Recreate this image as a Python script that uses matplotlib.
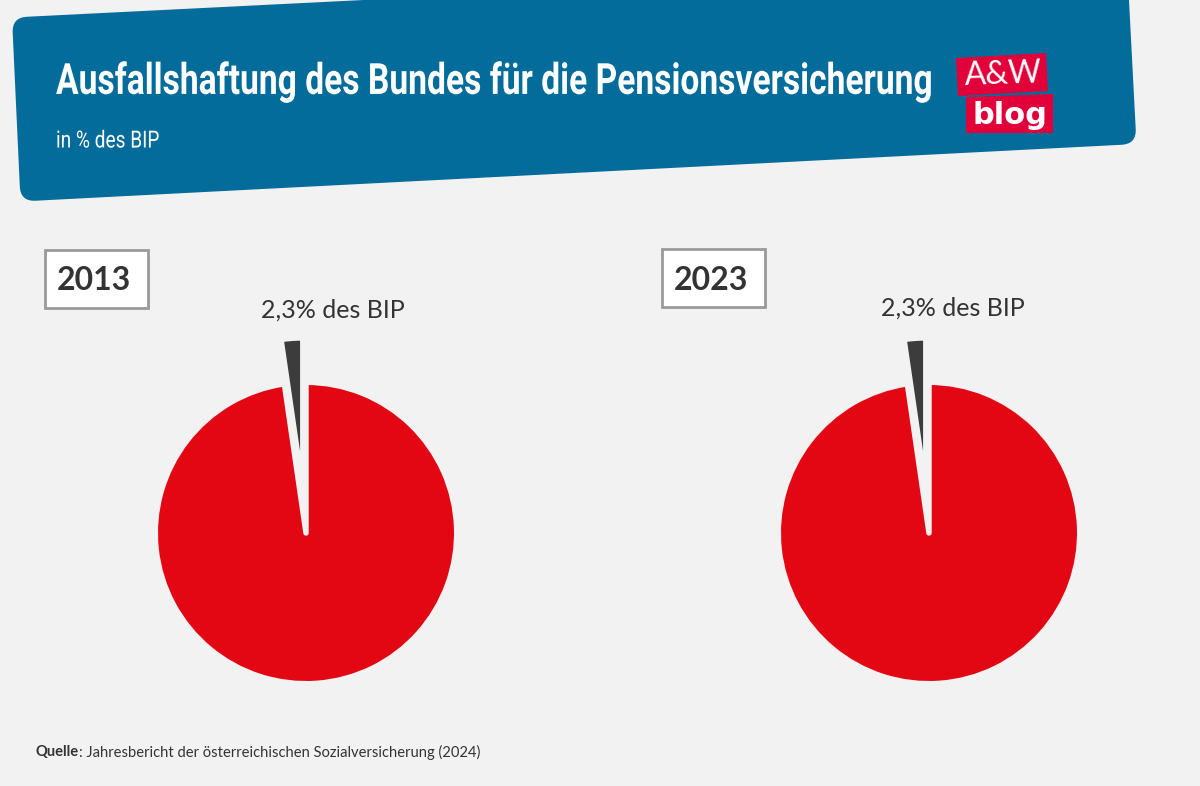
import matplotlib
matplotlib.use("Agg")
import matplotlib.pyplot as plt
from matplotlib.patches import PathPatch, Polygon, Rectangle
from matplotlib.path import Path
from matplotlib.patheffects import AbstractPathEffect
from matplotlib.transforms import Affine2D
import numpy as np

years = ["2013", "2023"]
rest_values = [97.7, 97.7]
liability_values = [2.3, 2.3]
liability_labels = ["2,3% des BIP", "2,3% des BIP"]
title = "Ausfallshaftung des Bundes für die Pensionsversicherung"
subtitle = "in % des BIP"
source_bold = "Quelle"
source_text = ": Jahresbericht der österreichischen Sozialversicherung (2024)"

BG = "#f2f2f2"; BLUE = "#046c9b"; RED = "#e30613"; DARK = "#3c3c3c"
LOGO = "#e2003a"; TXT = "#333333"
NARROW = ["Roboto", "DejaVu Sans"]
BODY = ["Lato", "Noto Sans", "DejaVu Sans"]

W, H = 1200, 786
fig = plt.figure(figsize=(12, 7.86), dpi=100, facecolor=BG)
bgax = fig.add_axes([0, 0, 1, 1]); bgax.set_xlim(0, W); bgax.set_ylim(H, 0); bgax.axis("off")


class Condense(AbstractPathEffect):
    """Narrows text horizontally about a pixel anchor (no condensed font is installed)."""
    def __init__(self, x0, sx):
        super().__init__()
        self.x0, self.sx = x0, sx

    def draw_path(self, renderer, gc, tpath, affine, rgbFace=None):
        squeeze = Affine2D().translate(-self.x0, 0).scale(self.sx, 1).translate(self.x0, 0)
        renderer.draw_path(gc, tpath, affine + squeeze, rgbFace)


def rounded(pts, r):
    pts = np.array(pts, float); n = len(pts)
    verts, codes = [], []
    for i in range(n):
        p, a, b = pts[i], pts[i - 1], pts[(i + 1) % n]
        s = p + (a - p) / np.linalg.norm(a - p) * r
        e = p + (b - p) / np.linalg.norm(b - p) * r
        verts += [s, p, e]
        codes += [Path.MOVETO if i == 0 else Path.LINETO, Path.CURVE3, Path.CURVE3]
    verts.append(verts[0]); codes.append(Path.CLOSEPOLY)
    return Path(verts, codes)


bgax.add_patch(PathPatch(rounded([(12, 17.5), (20.5, 201.5), (1136.5, 144), (1127, -38)], 15),
                         fc=BLUE, ec="none"))
bgax.text(56, 82, title, color="white", fontsize=31, fontweight="bold", family=NARROW, va="center", ha="left",
          path_effects=[Condense(56, 0.78)])
bgax.text(56, 141, subtitle, color="white", fontsize=17, family=NARROW, va="center", ha="left",
          path_effects=[Condense(56, 0.81)])

# logo
bgax.add_patch(Polygon([(956, 58), (1046, 53), (1048, 91), (958, 96)], fc=LOGO, ec="none"))
bgax.add_patch(Polygon([(966, 97), (1053, 94), (1053, 133), (966, 133)], fc=LOGO, ec="none"))
bgax.text(1003, 75, "A&W", color="white", fontsize=23, family=["Lato", "DejaVu Sans"],
          va="center", ha="center", rotation=2)
bgax.text(1010, 115, "blog", color="white", fontsize=22, family=["DejaVu Sans"], fontweight="bold",
          va="center", ha="center")

R = 150.7
box_pos = [(45, 250), (662, 249)]
centers = [(306, 533), (929, 533)]
label_pos = [(333, 310), (953, 308)]
for year, rest, liab, lab, bp, c, lp in zip(years, rest_values, liability_values, liability_labels,
                                            box_pos, centers, label_pos):
    bgax.add_patch(Rectangle(bp, 103, 58, fc="white", ec="#9a9a9a", lw=2))
    bgax.text(bp[0] + 48.5, bp[1] + 31, year, color=TXT, fontsize=23, fontweight="bold", family=BODY,
              va="center", ha="center")
    bgax.text(lp[0], lp[1], lab, color=TXT, fontsize=18, family=BODY, va="center", ha="center")
    half = R * 1.4
    ax = fig.add_axes([(c[0] - half) / W, 1 - (c[1] + half) / H, 2 * half / W, 2 * half / H])
    ax.pie([rest, liab], colors=[RED, DARK], startangle=90, counterclock=False, explode=[0, 0.295],
           wedgeprops=dict(edgecolor=BG, linewidth=3.9, joinstyle="round"))
    ax.set_xlim(-1.4, 1.4); ax.set_ylim(-1.4, 1.4)
    ax.patch.set_alpha(0)

t = bgax.text(36, 752, source_bold, color=TXT, fontsize=10.6, fontweight="bold", family=BODY, va="center", ha="left")
fig.canvas.draw()
bb = t.get_window_extent().transformed(bgax.transData.inverted())
bgax.text(bb.x1, 752, source_text, color=TXT, fontsize=10.6, family=BODY, va="center", ha="left")

fig.savefig("out.png", dpi=100, facecolor=BG)
